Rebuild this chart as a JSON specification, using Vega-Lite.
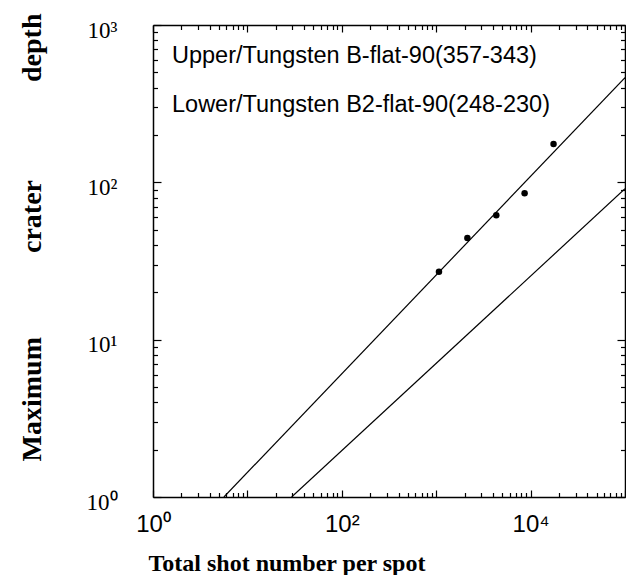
{
  "$schema": "https://vega.github.io/schema/vega-lite/v6.json",
  "width": 472,
  "height": 472,
  "autosize": "none",
  "padding": {"left": 153, "top": 25, "right": 1, "bottom": 78},
  "background": "white",
  "config": {
    "view": {"stroke": null},
    "axis": {"domainColor": "black", "domainWidth": 1.5, "tickColor": "black", "tickWidth": 1.2, "grid": false, "labelColor": "black", "titleColor": "black", "labelOverlap": false, "labelBound": false, "labelFlush": false}
  },
  "datasets": {
    "lines": [
      {"series": "Upper", "shots": 5.64, "depth": 1},
      {"series": "Upper", "shots": 100000, "depth": 463},
      {"series": "Lower", "shots": 29.4, "depth": 1},
      {"series": "Lower", "shots": 100000, "depth": 91}
    ],
    "points": [
      {"shots": 1070, "depth": 27},
      {"shots": 2140, "depth": 44.3},
      {"shots": 4330, "depth": 61.8},
      {"shots": 8640, "depth": 85.3},
      {"shots": 17500, "depth": 175}
    ],
    "labels": [
      {"label": "Upper/Tungsten B-flat-90(357-343)", "shots": 1.59, "depth": 572},
      {"label": "Lower/Tungsten B2-flat-90(248-230)", "shots": 1.59, "depth": 281}
    ]
  },
  "layer": [
    {
      "data": {"name": "lines"},
      "mark": {"type": "line", "color": "black", "strokeWidth": 1.2, "clip": true},
      "encoding": {
        "x": {
          "field": "shots", "type": "quantitative",
          "scale": {"type": "log", "domain": [1, 100000], "nice": false},
          "axis": {
            "orient": "bottom",
            "values": [1,2,3,4,5,6,7,8,9,10,20,30,40,50,60,70,80,90,100,200,300,400,500,600,700,800,900,1000,2000,3000,4000,5000,6000,7000,8000,9000,10000,20000,30000,40000,50000,60000,70000,80000,90000,100000],
            "labelExpr": "datum.value === 1 ? '10⁰' : datum.value === 100 ? '10²' : datum.value === 10000 ? '10⁴' : ''",
            "tickSize": {"condition": {"test": "indexof([1,10,100,1000,10000,100000], datum.value) >= 0", "value": -7}, "value": -4.5},
            "labelPadding": 22,
            "labelFont": "Liberation Sans",
            "labelFontSize": 24,
            "title": "Total shot number per spot",
            "titleFont": "Liberation Serif",
            "titleFontSize": 24,
            "titleFontWeight": "bold",
            "titleAnchor": "start",
            "titleAlign": "left",
            "titleX": -5,
            "titleY": 73,
            "titleBaseline": "alphabetic"
          }
        },
        "y": {
          "field": "depth", "type": "quantitative",
          "scale": {"type": "log", "domain": [1, 1000], "nice": false},
          "axis": {
            "orient": "left",
            "values": [1,2,3,4,5,6,7,8,9,10,20,30,40,50,60,70,80,90,100,200,300,400,500,600,700,800,900,1000],
            "labelExpr": "datum.value === 1 ? '10⁰' : datum.value === 10 ? '10¹' : datum.value === 100 ? '10²' : datum.value === 1000 ? '10³' : ''",
            "tickSize": {"condition": {"test": "indexof([1,10,100,1000], datum.value) >= 0", "value": -8}, "value": -4.5},
            "labelPadding": 44,
            "labelOffset": 5,
            "labelFont": "Liberation Serif",
            "labelFontSize": 23,
            "title": "Maximum\u2003\u2003\u2003crater\u2003\u2003\u2003\u2002depth",
            "titleFont": "Liberation Serif",
            "titleFontSize": 28,
            "titleFontWeight": "bold",
            "titlePadding": 40,
            "titleY": 212
          }
        },
        "detail": {"field": "series"}
      }
    },
    {
      "data": {"name": "points"},
      "mark": {"type": "circle", "color": "black", "size": 42, "opacity": 1},
      "encoding": {
        "x": {
          "field": "shots", "type": "quantitative",
          "axis": {
            "orient": "top",
            "values": [1,2,3,4,5,6,7,8,9,10,20,30,40,50,60,70,80,90,100,200,300,400,500,600,700,800,900,1000,2000,3000,4000,5000,6000,7000,8000,9000,10000,20000,30000,40000,50000,60000,70000,80000,90000,100000],
            "labels": false,
            "title": null,
            "tickSize": {"condition": {"test": "indexof([1,10,100,1000,10000,100000], datum.value) >= 0", "value": -7}, "value": -4.5}
          }
        },
        "y": {
          "field": "depth", "type": "quantitative",
          "axis": {
            "orient": "right",
            "values": [1,2,3,4,5,6,7,8,9,10,20,30,40,50,60,70,80,90,100,200,300,400,500,600,700,800,900,1000],
            "labels": false,
            "title": null,
            "tickSize": {"condition": {"test": "indexof([1,10,100,1000], datum.value) >= 0", "value": -8}, "value": -4.5}
          }
        }
      }
    },
    {
      "data": {"name": "labels"},
      "mark": {"type": "text", "align": "left", "baseline": "alphabetic", "font": "Liberation Sans", "fontSize": 23.5, "color": "black"},
      "encoding": {
        "x": {"field": "shots", "type": "quantitative", "axis": null},
        "y": {"field": "depth", "type": "quantitative", "axis": null},
        "text": {"field": "label"}
      }
    }
  ],
  "resolve": {"axis": {"x": "independent", "y": "independent"}}
}
